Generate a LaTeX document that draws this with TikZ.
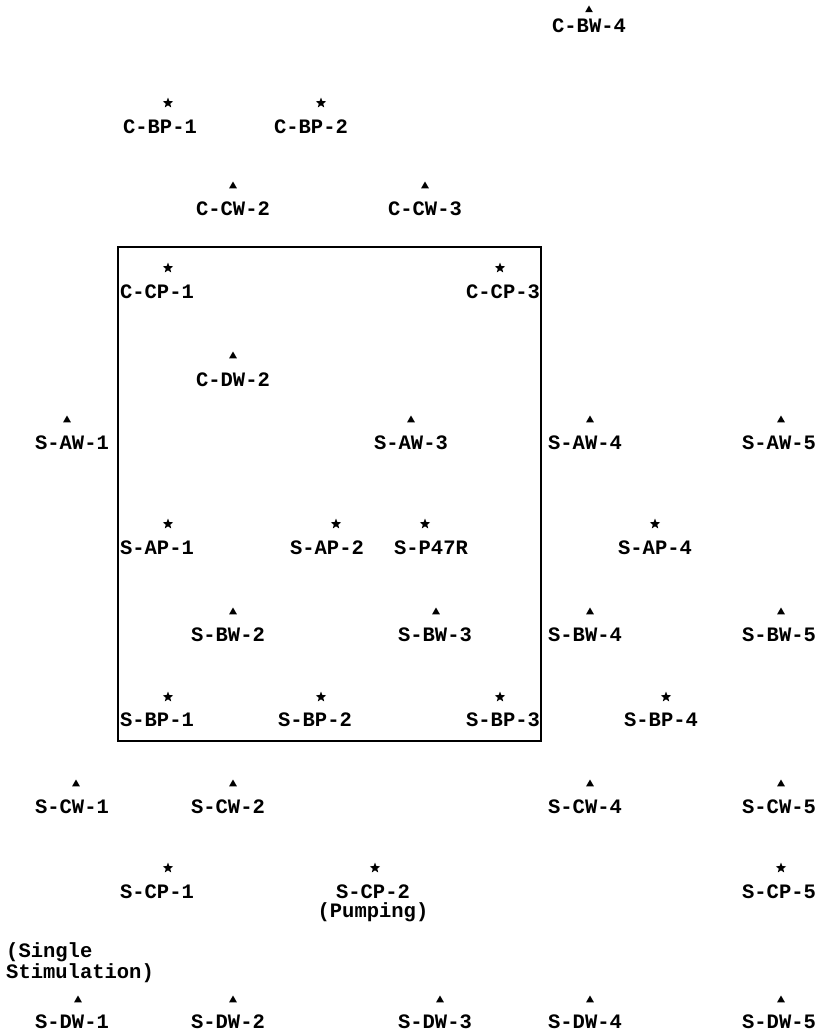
\documentclass[tikz,border=0pt]{standalone}
\usepackage{fontspec}
\setmonofont{Liberation Mono}
\usepackage{tikz}
\usetikzlibrary{shapes.geometric,positioning}

\begin{document}
\begin{tikzpicture}[x=1pt,y=-1pt]
  \tikzstyle{wellmark}=[regular polygon,regular polygon sides=3,fill=black,draw=none,minimum size=9pt,inner sep=0pt]
  \tikzstyle{pumpmark}=[star,star points=5,star point ratio=2.4,fill=black,draw=none,minimum size=11pt,inner sep=0pt]
  \tikzstyle{lbl}=[anchor=base,inner sep=0pt,font=\ttfamily\bfseries\fontsize{20.5}{19}\selectfont,align=center]
  \useasboundingbox (0,0) rectangle (819,1033);
  % study area frame
  \draw[line width=1.4pt] (118,247) rectangle (541,741);
  % C row
  \node[wellmark] (cbw4) at (589,10) {};
  \node[lbl] (cbw4lbl) at (589,33) {C-BW-4};
  \node[pumpmark] (cbp1) at (168,103) {};
  \node[lbl] (cbp1lbl) at (160,133) {C-BP-1};
  \node[pumpmark] (cbp2) at (321,103) {};
  \node[lbl] (cbp2lbl) at (311,133) {C-BP-2};
  \node[wellmark] (ccw2) at (233,186) {};
  \node[lbl] (ccw2lbl) at (233,215) {C-CW-2};
  \node[wellmark] (ccw3) at (425,186) {};
  \node[lbl] (ccw3lbl) at (425,215) {C-CW-3};
  \node[pumpmark] (ccp1) at (168,268) {};
  \node[lbl] (ccp1lbl) at (157,298) {C-CP-1};
  \node[pumpmark] (ccp3) at (500,268) {};
  \node[lbl] (ccp3lbl) at (503,298) {C-CP-3};
  \node[wellmark] (cdw2) at (233,356) {};
  \node[lbl] (cdw2lbl) at (233,386) {C-DW-2};
  % S-A row
  \node[wellmark] (saw1) at (67,420) {};
  \node[lbl] (saw1lbl) at (72,449) {S-AW-1};
  \node[wellmark] (saw3) at (411,420) {};
  \node[lbl] (saw3lbl) at (411,449) {S-AW-3};
  \node[wellmark] (saw4) at (590,420) {};
  \node[lbl] (saw4lbl) at (585,449) {S-AW-4};
  \node[wellmark] (saw5) at (781,420) {};
  \node[lbl] (saw5lbl) at (779,449) {S-AW-5};
  \node[pumpmark] (sap1) at (168,524) {};
  \node[lbl] (sap1lbl) at (157,554) {S-AP-1};
  \node[pumpmark] (sap2) at (336,524) {};
  \node[lbl] (sap2lbl) at (327,554) {S-AP-2};
  \node[pumpmark] (sp47r) at (425,524) {};
  \node[lbl] (sp47rlbl) at (431,554) {S-P47R};
  \node[pumpmark] (sap4) at (655,524) {};
  \node[lbl] (sap4lbl) at (655,554) {S-AP-4};
  % S-B row
  \node[wellmark] (sbw2) at (233,612) {};
  \node[lbl] (sbw2lbl) at (228,641) {S-BW-2};
  \node[wellmark] (sbw3) at (436,612) {};
  \node[lbl] (sbw3lbl) at (435,641) {S-BW-3};
  \node[wellmark] (sbw4) at (590,612) {};
  \node[lbl] (sbw4lbl) at (585,641) {S-BW-4};
  \node[wellmark] (sbw5) at (781,612) {};
  \node[lbl] (sbw5lbl) at (779,641) {S-BW-5};
  \node[pumpmark] (sbp1) at (168,697) {};
  \node[lbl] (sbp1lbl) at (157,726) {S-BP-1};
  \node[pumpmark] (sbp2) at (321,697) {};
  \node[lbl] (sbp2lbl) at (315,726) {S-BP-2};
  \node[pumpmark] (sbp3) at (500,697) {};
  \node[lbl] (sbp3lbl) at (503,726) {S-BP-3};
  \node[pumpmark] (sbp4) at (666,697) {};
  \node[lbl] (sbp4lbl) at (661,726) {S-BP-4};
  % S-C row
  \node[wellmark] (scw1) at (76,784) {};
  \node[lbl] (scw1lbl) at (72,813) {S-CW-1};
  \node[wellmark] (scw2) at (233,784) {};
  \node[lbl] (scw2lbl) at (228,813) {S-CW-2};
  \node[wellmark] (scw4) at (590,784) {};
  \node[lbl] (scw4lbl) at (585,813) {S-CW-4};
  \node[wellmark] (scw5) at (781,784) {};
  \node[lbl] (scw5lbl) at (779,813) {S-CW-5};
  \node[pumpmark] (scp1) at (168,868) {};
  \node[lbl] (scp1lbl) at (157,898) {S-CP-1};
  \node[pumpmark] (scp2) at (375,868) {};
  \node[lbl] (scp2lbl) at (373,917) {S-CP-2\\(Pumping)};
  \node[pumpmark] (scp5) at (781,868) {};
  \node[lbl] (scp5lbl) at (779,898) {S-CP-5};
  % S-D row
  \node[lbl,anchor=base west,align=left] (single) at (6,978) {(Single\\Stimulation)};
  \node[wellmark] (sdw1) at (78,1000) {};
  \node[lbl] (sdw1lbl) at (72,1028) {S-DW-1};
  \node[wellmark] (sdw2) at (233,1000) {};
  \node[lbl] (sdw2lbl) at (228,1028) {S-DW-2};
  \node[wellmark] (sdw3) at (440,1000) {};
  \node[lbl] (sdw3lbl) at (435,1028) {S-DW-3};
  \node[wellmark] (sdw4) at (590,1000) {};
  \node[lbl] (sdw4lbl) at (585,1028) {S-DW-4};
  \node[wellmark] (sdw5) at (781,1000) {};
  \node[lbl] (sdw5lbl) at (779,1028) {S-DW-5};
\end{tikzpicture}
\end{document}
